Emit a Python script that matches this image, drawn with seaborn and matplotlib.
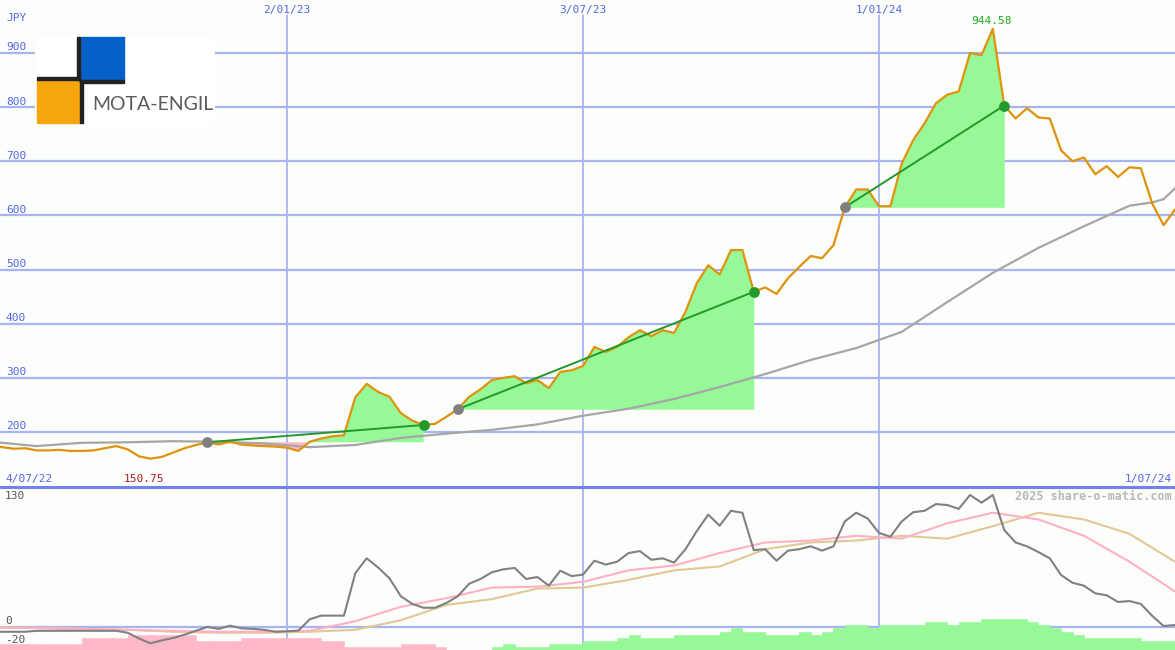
import numpy as np
import pandas as pd
import matplotlib
matplotlib.use("Agg")
import matplotlib.pyplot as plt
import matplotlib.transforms as mtransforms
from matplotlib.patches import Rectangle
from matplotlib.lines import Line2D
import seaborn as sns

# ---------------- data ----------------
start_date = pd.Timestamp("2022-07-04")
end_date = pd.Timestamp("2024-07-01")
weeks = np.arange(105)

price = [173, 172, 169, 170, 166, 166, 167, 165, 165, 166,
         170, 174, 168, 155, 150.75, 154, 162, 170, 176, 181,
         177, 182, 177, 175, 174, 173, 171, 165, 182, 188,
         192, 194, 264, 289, 274, 265, 235, 221, 213, 215,
         228, 242, 265, 279, 296, 300, 303, 290, 296, 281,
         311, 314, 322, 357, 348, 357, 375, 388, 377, 388,
         383, 422, 475, 508, 491, 536, 536, 459, 467, 455,
         484, 505, 525, 521, 545, 615, 648, 648, 617, 617,
         696, 739, 770, 807, 823, 829, 900, 896, 944.58, 803,
         779, 798, 781, 779, 720, 700, 707, 676, 691, 671,
         689, 687, 622, 582, 611]

ma_weeks = list(range(0, 101, 4)) + [102, 103, 104]
price_ma = [182, 174, 180, 181, 183, 182, 179, 172, 176, 189,
            197, 204, 214, 230, 243, 261, 283, 307, 333, 355,
            385, 440, 494, 540, 580, 618, 624, 630, 650]

seg_start = [19, 41, 75]
seg_end = [38, 67, 89]

momentum = [-5, -5, -5, -5, -4, -4, -4, -4, -4, -4,
            -4, -4, -6, -12, -17, -14, -11.5, -8, -4, 0,
            -2, 1.4, -1.4, -2, -3, -5, -4.5, -3.8, 8, 11.8,
            11.8, 11.8, 56, 71.5, 62, 50.7, 32, 24, 20, 20,
            25, 32, 45, 50, 57, 60, 61.5, 50, 52, 43,
            58.6, 53, 54.5, 69, 65, 68, 77, 79, 70, 71.5,
            67, 81, 100, 117, 105.5, 121, 119, 80, 81, 69,
            79.5, 81, 84, 79.5, 84, 110, 119, 113, 98, 94,
            110, 119.5, 121, 128, 127, 123, 137.5, 129.5, 137.5, 101,
            88, 84, 78, 71.5, 54, 46, 43, 35, 33, 26,
            27, 24, 11.5, 1, 2]

osc_weeks = list(range(0, 105, 4))
osc_fast = [-1, -1, -2, -3, -4, -5, -5, -4, 6, 21,
            30, 41, 42, 47, 59, 64, 77, 88, 90, 95,
            92, 108, 119, 112, 95, 68, 37]
osc_slow = [0, -1, -2, -3, -5, -6, -6, -5, -3, 7,
            23, 29, 40, 41, 49, 59, 63, 81, 88, 90,
            95, 92, 105, 119, 112, 97, 68]

bar_levels = ([-2] * 8 + [-4] * 4 + [-5] * 6 + [-3] * 4 + [-4] * 7 + [-3] * 2 +
              [-1] * 5 + [-2] * 3 + [-1] + [0] * 4 + [1] + [2] + [1] * 3 + [2] * 3 +
              [3] * 3 + [4] + [5] + [4] * 3 + [5] * 4 + [6] + [7] + [6] * 2 + [5] * 3 +
              [6] + [5] + [6] + [7] + [8] * 2 + [7] + [8] * 4 + [9] * 2 + [8] + [9] * 2 +
              [10] * 4 + [9] + [8] + [7] + [6] + [5] + [4] * 5 + [3] * 3)

vline_dates = ["2023-01-02", "2023-07-03", "2024-01-01"]
top_ticks = [200, 300, 400, 500, 600, 700, 800, 900]
bot_ticks = [130, 0, -20]
currency = "JPY"
company = "MOTA-ENGIL"
credit = "2025 share-o-matic.com"

# ---------------- style ----------------
sns.set_style("white")
plt.rcParams["font.family"] = ["DejaVu Sans Mono", "DejaVu Sans"]

W, H = 1175, 650
BG = "#fbfefb"
GRID = "#a8b4f0"
BLUE_TXT = "#5566e8"
ORANGE = "#e0920c"
MA_GRAY = "#a6a6a6"
FILL_G = "#96f896"
FILL_P = "#ffb8c8"
TREND = "#22992a"
MOM = "#808080"
FAST = "#ffb0c4"
SLOW = "#e2c896"


def fx(px):
    return px / W


def fy(py):
    return 1 - py / H


def week_of(d):
    return (pd.Timestamp(d) - start_date).days / 7.0


def dlabel(d):
    d = pd.Timestamp(d)
    return f"{d.day}/{d.month:02d}/{d.year % 100:02d}"


fig = plt.figure(figsize=(W / 100, H / 100), dpi=100)
fig.patch.set_facecolor(BG)

ax_top = fig.add_axes([0, fy(487), 1, 487 / H])
ax_bot = fig.add_axes([0, 0, 1, 163 / H])
for ax in (ax_top, ax_bot):
    ax.set_facecolor(BG)
    for sp in ax.spines.values():
        sp.set_visible(False)
    ax.set_xticks([])
    ax.set_yticks([])
    ax.set_xlim(0.79, 104.0)

ax_top.set_ylim(98.4, 997.9)
ax_bot.set_ylim(-24, 145.8)

price_arr = np.array(price, dtype=float)

# grid top
for v in top_ticks:
    ax_top.axhline(v, color=GRID, lw=1.6, zorder=0.5)
    ax_top.text(0.005, v + 1, str(v), transform=mtransforms.blended_transform_factory(ax_top.transAxes, ax_top.transData),
                ha="left", va="bottom", color=BLUE_TXT, fontsize=8, zorder=5)
for d in vline_dates:
    w = week_of(d)
    ax_top.axvline(w, ymin=0, ymax=1 - 15 / 487, color=GRID, lw=1.3, zorder=0.5)
    ax_bot.axvline(w, color=GRID, lw=1.3, zorder=0.5)
    ax_top.text(w, 1 - 10 / 487, dlabel(d), transform=mtransforms.blended_transform_factory(ax_top.transData, ax_top.transAxes),
                ha="center", va="center", color=BLUE_TXT, fontsize=8)

ax_top.text(fx(6), 1 - 18 / 487, currency, transform=ax_top.transAxes, ha="left", va="center",
            color=BLUE_TXT, fontsize=8)

# fills for swing segments
for s, e in zip(seg_start, seg_end):
    xs = weeks[s:e + 1]
    ps = price_arr[s:e + 1]
    base = price_arr[s]
    ax_top.fill_between(xs, ps, base, where=ps >= base, interpolate=True, color=FILL_G, lw=0, zorder=1)
    ax_top.fill_between(xs, ps, base, where=ps <= base, interpolate=True, color=FILL_P, lw=0, zorder=1)

# moving average and price
sns.lineplot(x=ma_weeks, y=price_ma, ax=ax_top, color=MA_GRAY, lw=1.6, zorder=2, legend=False)
sns.lineplot(x=weeks, y=price_arr, ax=ax_top, color=ORANGE, lw=1.6, zorder=3, legend=False)

for s, e in zip(seg_start, seg_end):
    sns.lineplot(x=[s, e], y=[price_arr[s], price_arr[e]], ax=ax_top, color=TREND, lw=1.4, zorder=4, legend=False)
    ax_top.scatter([s], [price_arr[s]], s=60, color="#808080", zorder=5, lw=0)
    ax_top.scatter([e], [price_arr[e]], s=60, color=TREND, zorder=5, lw=0)

# high / low labels
imax = int(np.argmax(price_arr))
imin = int(np.argmin(price_arr))
ax_top.annotate(f"{price_arr[imax]:.2f}", xy=(imax, price_arr[imax]), xytext=(-1, 2), textcoords="offset points",
                ha="center", va="bottom", color="#22aa22", fontsize=8, zorder=6)
ax_top.text(imin - 0.6, 8 / 487, f"{price_arr[imin]:.2f}",
            transform=mtransforms.blended_transform_factory(ax_top.transData, ax_top.transAxes),
            ha="center", va="center", color="#aa2020", fontsize=8)
ax_top.text(fx(5), 8 / 487, dlabel(start_date), transform=ax_top.transAxes, ha="left", va="center",
            color=BLUE_TXT, fontsize=8)
ax_top.text(fx(1172), 8 / 487, dlabel(end_date), transform=ax_top.transAxes, ha="right", va="center",
            color=BLUE_TXT, fontsize=8)

# ---------------- lower panel ----------------
ax_bot.axhline(0, color=GRID, lw=1.6, zorder=0.6)
lev = np.array(bar_levels, dtype=float)
bar_cols = [FILL_G if v > 0 else FILL_P for v in lev]
ax_bot.bar(weeks[:len(lev)], np.abs(lev) * 3.2, bottom=-24, width=1.0, align="edge",
           color=bar_cols, edgecolor=bar_cols, lw=0.4, zorder=1)

sns.lineplot(x=osc_weeks, y=osc_slow, ax=ax_bot, color=SLOW, lw=1.5, zorder=2, legend=False)
sns.lineplot(x=osc_weeks, y=osc_fast, ax=ax_bot, color=FAST, lw=1.5, zorder=3, legend=False)
sns.lineplot(x=weeks, y=momentum, ax=ax_bot, color=MOM, lw=1.5, zorder=4, legend=False)

for v in bot_ticks:
    ax_bot.text(fx(5), v + 6, str(v), transform=mtransforms.blended_transform_factory(ax_bot.transAxes, ax_bot.transData),
                ha="left", va="center", color="#555555", fontsize=8, zorder=6)
ax_bot.text(fx(1172), 1 - 9 / 163, credit, transform=ax_bot.transAxes, ha="right", va="center",
            color="#b8b8b8", fontsize=8.5, fontweight="bold", zorder=6)

# separator line
fig.add_artist(Line2D([0, 1], [fy(487), fy(487)], color="#7282ea", lw=2.2, transform=fig.transFigure))

# ---------------- logo ----------------
ax_logo = fig.add_axes([fx(35), fy(126), fx(215) - fx(35), 91 / H])
ax_logo.set_xlim(35, 215)
ax_logo.set_ylim(126, 35)
ax_logo.axis("off")
ax_logo.add_patch(Rectangle((35, 35), 180, 91, color="white", zorder=0))
ax_logo.add_patch(Rectangle((36.7, 80), 43.3, 42.7, color="#f5a60c", zorder=1))
ax_logo.add_patch(Rectangle((80.7, 36.7), 43.3, 43.3, color="#0560c8", zorder=1))
ax_logo.add_patch(Rectangle((77.3, 36.7), 3.0, 43.3, color="#222222", zorder=2))
ax_logo.add_patch(Rectangle((36.7, 77.3), 43.6, 3.0, color="#222222", zorder=2))
ax_logo.add_patch(Rectangle((80.0, 80.0), 3.0, 42.7, color="#222222", zorder=2))
ax_logo.add_patch(Rectangle((80.0, 80.0), 44.0, 3.0, color="#222222", zorder=2))
ax_logo.text(92, 110, company, ha="left", va="baseline", color="#5a5a5a", fontsize=14,
             family=["Lato", "DejaVu Sans"], zorder=3)

fig.savefig("out.png", dpi=100, facecolor=BG)
